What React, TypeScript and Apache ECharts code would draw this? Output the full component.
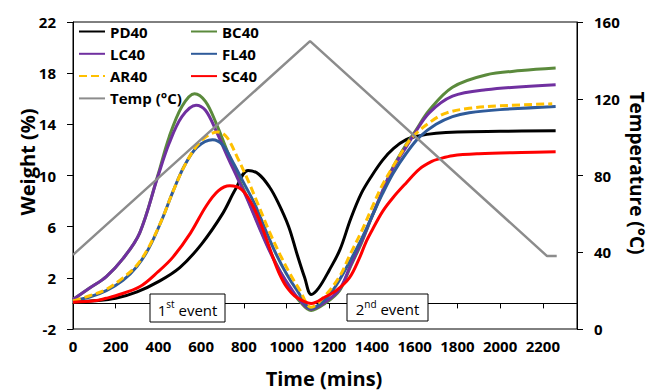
import React, { useEffect, useRef } from "react";
import * as echarts from "echarts";

// time (mins) vs weight (%) readings
const pd40: number[][] = [
  [0, 0.1], [100, 0.2], [200, 0.4], [300, 0.9], [400, 1.7], [500, 2.8], [600, 4.6], [700, 7.0],
  [760, 8.9], [820, 10.4], [870, 10.1], [920, 9.1], [960, 7.9], [1010, 6.0], [1050, 3.8],
  [1085, 2.0], [1115, 0.7], [1150, 1.2], [1200, 2.6], [1250, 4.2], [1300, 6.6], [1350, 8.6],
  [1400, 10.0], [1450, 11.2], [1500, 12.1], [1560, 12.8], [1620, 13.1], [1700, 13.3],
  [1800, 13.4], [2000, 13.45], [2260, 13.5],
];
const bc40: number[][] = [
  [0, 0.3], [78, 1.2], [156, 2.1], [234, 3.5], [312, 5.5], [397, 10.0], [450, 13.0], [510, 15.4],
  [569, 16.4], [620, 15.8], [670, 14.1], [720, 12.0], [770, 10.0], [820, 8.1], [870, 6.1],
  [920, 4.2], [970, 2.5], [1020, 1.1], [1060, 0.2], [1115, -0.55], [1180, 0.0], [1248, 1.0],
  [1300, 2.9], [1350, 4.7], [1400, 6.8], [1450, 8.8], [1500, 10.7], [1559, 12.4], [1600, 13.4],
  [1668, 15.1], [1777, 16.9], [1933, 17.86], [2100, 18.2], [2260, 18.4],
];
const lc40: number[][] = [
  [0, 0.3], [78, 1.2], [156, 2.1], [234, 3.5], [312, 5.5], [397, 9.9], [450, 12.5], [510, 14.6],
  [576, 15.5], [620, 15.1], [670, 13.5], [720, 11.6], [770, 9.8], [820, 8.0], [870, 6.0],
  [920, 4.1], [970, 2.5], [1020, 1.2], [1060, 0.3], [1115, -0.45], [1180, 0.1], [1248, 1.1],
  [1300, 3.0], [1350, 4.8], [1400, 6.8], [1450, 8.8], [1500, 10.6], [1559, 12.2], [1600, 13.3],
  [1668, 14.9], [1777, 16.2], [1933, 16.7], [2260, 17.1],
];
const fl40: number[][] = [
  [0, 0.2], [78, 0.5], [156, 1.0], [234, 1.8], [300, 2.9], [358, 4.4], [420, 6.7], [467, 8.7],
  [520, 10.7], [580, 12.2], [654, 12.8], [700, 12.4], [750, 11.0], [800, 9.4], [850, 7.8],
  [900, 5.8], [950, 3.9], [1000, 2.3], [1050, 1.0], [1115, -0.4], [1180, 0.3], [1232, 1.4],
  [1300, 3.4], [1350, 5.0], [1400, 6.8], [1450, 8.6], [1500, 10.2], [1559, 11.7], [1622, 13.0],
  [1700, 14.0], [1777, 14.6], [1855, 14.9], [2000, 15.15], [2260, 15.4],
];
const ar40: number[][] = [
  [0, 0.2], [78, 0.6], [156, 1.1], [234, 2.0], [300, 3.0], [358, 4.5], [420, 6.7], [467, 8.7],
  [530, 11.0], [600, 12.7], [678, 13.4], [720, 13.0], [770, 11.4], [820, 9.6], [870, 7.6],
  [920, 5.6], [970, 3.8], [1020, 2.2], [1060, 1.1], [1115, -0.3], [1180, 0.6], [1248, 2.1],
  [1294, 3.7], [1350, 5.6], [1403, 7.6], [1450, 9.3], [1528, 11.5], [1589, 13.0], [1683, 14.3],
  [1750, 14.9], [1855, 15.25], [2000, 15.45], [2244, 15.6],
];
const sc40: number[][] = [
  [0, 0.1], [100, 0.2], [156, 0.4], [200, 0.6], [312, 1.3], [400, 2.5], [467, 3.6], [550, 5.5],
  [623, 7.6], [680, 8.8], [734, 9.2], [790, 8.9], [843, 7.6], [889, 5.8], [936, 3.6], [967, 2.3],
  [1000, 1.3], [1045, 0.5], [1115, 0.0], [1180, 0.5], [1232, 1.0], [1294, 2.0], [1340, 3.5],
  [1372, 4.8], [1403, 5.8], [1450, 7.2], [1500, 8.3], [1559, 9.4], [1622, 10.5], [1680, 11.1],
  [1715, 11.3], [1777, 11.55], [1900, 11.7], [2100, 11.8], [2260, 11.85],
];
// time (mins) vs temperature (°C)
const temp: number[][] = [
  [0, 38.6], [1110, 150], [2220, 38], [2265, 38],
];

const xTicks = { min: 0, max: 2360, interval: 200 };
const yLeftTicks = { min: -2, max: 22, interval: 4 };
const yRightTicks = { min: 0, max: 160, interval: 40 };

const FONT = "'Open Sans', 'Liberation Sans', sans-serif";

export default function App() {
  const ref = useRef<HTMLDivElement>(null);
  useEffect(() => {
    if (!ref.current) return;
    const chart = echarts.init(ref.current, null, { renderer: "svg" });
    const line = (name: string, data: number[][], color: string, extra: any = {}) => ({
      name,
      type: "line",
      data,
      smooth: 0.35,
      symbol: "none",
      yAxisIndex: 0,
      lineStyle: { color, width: 3, ...(extra.lineStyle || {}) },
      itemStyle: { color },
      z: extra.z ?? 2,
    });
    const axisLabel = { color: "#000", fontFamily: FONT, fontWeight: "bold" as const, fontSize: 15 };
    const legendText = { color: "#000", fontFamily: FONT, fontWeight: "bold" as const, fontSize: 15, lineHeight: 14 };
    const supText = (a: string, b: string) => `{n|${a}}{s|${b}}{n| event}`;
    const rich = {
      n: { fontFamily: FONT, fontSize: 15, color: "#000", lineHeight: 18, verticalAlign: "bottom" },
      s: { fontFamily: FONT, fontSize: 10, color: "#000", lineHeight: 18, verticalAlign: "top", padding: [0, 0, 6, 0] },
    };
    const legendBase = {
      orient: "vertical",
      top: 24,
      padding: 0,
      itemWidth: 26,
      itemHeight: 14,
      itemGap: 7.3,
      textStyle: legendText,
      selectedMode: false,
      itemStyle: { opacity: 0 },
    };
    chart.setOption({
      animation: false,
      grid: { left: 73, right: 73, top: 22, bottom: 61, show: true, borderColor: "#000", borderWidth: 1 },
      legend: [
        { ...legendBase, data: ["PD40", "LC40", "AR40", "Temp (°C)"], left: 78 },
        { ...legendBase, data: ["BC40", "FL40", "SC40"], left: 190 },
      ],
      xAxis: {
        type: "value",
        ...xTicks,
        axisLine: { show: true, lineStyle: { color: "#000", width: 1 } },
        axisTick: { show: true, length: 5, lineStyle: { color: "#000" } },
        splitLine: { show: false },
        axisLabel: {
          ...axisLabel,
          margin: 9,
          formatter: (v: number) => (v % 200 === 0 ? String(v) : ""),
        },
      },
      yAxis: [
        {
          type: "value",
          ...yLeftTicks,
          axisLine: { show: true, lineStyle: { color: "#000", width: 1 } },
          axisTick: { show: true, length: 6, lineStyle: { color: "#000" } },
          splitLine: { show: false },
          axisLabel: { ...axisLabel, margin: 17 },
        },
        {
          type: "value",
          ...yRightTicks,
          position: "right",
          axisLine: { show: true, lineStyle: { color: "#000", width: 1 } },
          axisTick: { show: true, length: 6, lineStyle: { color: "#000" } },
          splitLine: { show: false },
          axisLabel: { ...axisLabel, margin: 17 },
        },
      ],
      series: [
        line("PD40", pd40, "#000000"),
        line("BC40", bc40, "#5B8A3C"),
        line("LC40", lc40, "#7030A0"),
        line("FL40", fl40, "#2F5B9A"),
        line("AR40", ar40, "#FFC000", { lineStyle: { type: [8, 4] }, z: 3 }),
        line("SC40", sc40, "#FF0000", { z: 3 }),
        {
          name: "Temp (°C)",
          type: "line",
          data: temp,
          yAxisIndex: 1,
          symbol: "none",
          lineStyle: { color: "#8C8C8C", width: 2.5 },
          itemStyle: { color: "#8C8C8C" },
          z: 4,
        },
      ],
      graphic: [
        {
          type: "rect",
          shape: { x: 150, y: 294, width: 75, height: 28 },
          style: { fill: "#fff", stroke: "#000", lineWidth: 1 },
          z: 10,
        },
        {
          type: "text",
          x: 187.5,
          y: 308,
          style: { text: supText("1", "st"), rich, align: "center", verticalAlign: "middle" },
          z: 11,
        },
        {
          type: "rect",
          shape: { x: 347, y: 294, width: 81, height: 27 },
          style: { fill: "#fff", stroke: "#000", lineWidth: 1 },
          z: 10,
        },
        {
          type: "text",
          x: 387.5,
          y: 307.5,
          style: { text: supText("2", "nd"), rich, align: "center", verticalAlign: "middle" },
          z: 11,
        },
        {
          type: "text",
          x: 27,
          y: 162,
          rotation: Math.PI / 2,
          style: { text: "Weight (%)", fontFamily: FONT, fontWeight: "bold", fontSize: 20, fill: "#000", align: "center", verticalAlign: "middle" },
        },
        {
          type: "text",
          x: 637,
          y: 173,
          rotation: -Math.PI / 2,
          style: { text: "Temperature (°C)", fontFamily: FONT, fontWeight: "bold", fontSize: 19, fill: "#000", align: "center", verticalAlign: "middle" },
        },
        {
          type: "text",
          x: 324,
          y: 378,
          style: { text: "Time (mins)", fontFamily: FONT, fontWeight: "bold", fontSize: 20, fill: "#000", align: "center", verticalAlign: "middle" },
        },
      ],
    });
    return () => chart.dispose();
  }, []);
  return <div ref={ref} style={{ width: 650, height: 390, position: "absolute", left: 0, top: 0 }} />;
}
